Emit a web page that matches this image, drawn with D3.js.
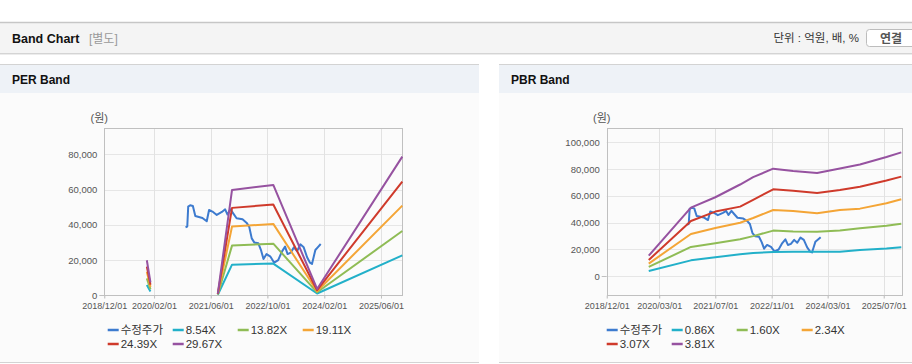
<!DOCTYPE html>
<html>
<head>
<meta charset="utf-8">
<script src="https://cdn.jsdelivr.net/npm/d3@7"></script>
<style>
  body { margin: 0; background: #fff; }
  svg { display: block; font-family: "Liberation Sans", Arial, "Noto Sans CJK KR", sans-serif; }
</style>
</head>
<body>
<script>
// series names / colours
var seriesColors = ["#3d7bcf", "#22b0c9", "#8fbc55", "#f4a536", "#cf3a2b", "#9652a0"];
var perNames = ["수정주가", "8.54X", "13.82X", "19.11X", "24.39X", "29.67X"];
var pbrNames = ["수정주가", "0.86X", "1.60X", "2.34X", "3.07X", "3.81X"];

// adjusted price (shared by both charts)
var priceDates = ["2020-10-28","2020-11-12","2020-11-20","2020-12-07","2020-12-30","2021-01-20","2021-02-12",
  "2021-03-22","2021-04-28","2021-05-18","2021-06-16","2021-07-23","2021-09-05","2021-10-03","2021-10-23",
  "2021-11-18","2021-12-11","2022-01-09","2022-03-01","2022-04-04","2022-04-27","2022-05-19","2022-06-11",
  "2022-07-15","2022-08-08","2022-08-28","2022-09-23","2022-10-27","2022-11-28","2023-01-01","2023-02-02",
  "2023-03-01","2023-03-23","2023-04-18","2023-05-16","2023-06-12","2023-07-10","2023-08-08","2023-09-06",
  "2023-10-01","2023-10-18","2023-11-02","2023-11-16","2023-12-12","2024-01-01"];
var priceValues = [38600, 39000, 50300, 51100, 50700, 45000, 44600,
  43900, 42000, 48400, 47500, 45600, 47300, 48800, 45800,
  48800, 46500, 43700, 43100, 41200, 39000, 32300, 29900,
  29500, 25300, 20600, 23400, 21900, 18500, 20000, 24800,
  27600, 23400, 24200, 27200, 25000, 28900, 27200, 21600,
  18500, 17800, 21900, 25700, 27600, 29100];

// PER bands (null = no data)
var perBandDates = ["2019-12-01","2020-01-01","2020-06-01","2021-08-01","2021-12-01","2022-11-20","2023-12-01","2025-12-01"];
var per854  = [5900, 2100, null, 300, 17400, 18000, 1000, 22700];
var per1382 = [9600, 3400, null, 500, 28200, 29300, 1700, 36500];
var per1911 = [13400, 4700, null, 700, 39000, 40500, 2300, 50900];
var per2439 = [16300, 6000, null, 850, 49600, 51500, 2900, 64500];
var per2967 = [19900, 7300, null, 1000, 59800, 62600, 3600, 78700];

// PBR bands
var pbrBandDates = ["2019-12-01","2020-12-01","2021-07-01","2022-02-01","2022-05-25","2022-11-15","2023-05-07",
  "2023-12-01","2024-06-16","2024-12-07","2025-07-25","2025-12-01"];
var pbr086 = [4000, 11900, 14200, 16400, 17300, 18200, 18300, 18400, 18400, 19700, 20700, 21600];
var pbr160 = [7000, 21900, 24600, 27600, 30000, 34100, 33500, 33300, 34100, 35800, 37800, 39300];
var pbr234 = [9500, 31600, 36100, 40000, 43500, 49500, 48800, 47000, 49500, 50500, 54500, 57500];
var pbr307 = [12200, 41300, 48300, 52000, 57000, 64900, 63900, 62200, 64400, 66900, 71500, 74400];
var pbr381 = [15400, 51200, 59000, 68500, 74000, 80300, 78600, 77100, 80500, 83500, 89000, 92500];

// axis ticks
var perXTicks = ["2018-12-01","2020-02-01","2021-06-01","2022-10-01","2024-02-01","2025-06-01"];
var pbrXTicks = ["2018-12-01","2020-03-01","2021-07-01","2022-11-01","2024-03-01","2025-07-01"];
var perYTicks = [0, 20000, 40000, 60000, 80000];
var pbrYTicks = [0, 20000, 40000, 60000, 80000, 100000];

var parse = d3.timeParse("%Y-%m-%d");
var fmtDate = d3.timeFormat("%Y/%m/%d");

var svg = d3.select("body").append("svg")
  .attr("width", 912)
  .attr("height", 364);

// ---- top header bar
svg.append("rect").attr("x", 0).attr("y", 23).attr("width", 912).attr("height", 30).attr("fill", "#f4f4f4");
svg.append("line").attr("x1", 0).attr("x2", 912).attr("y1", 22.5).attr("y2", 22.5).attr("stroke", "#c6c6c6").attr("stroke-width", 1.5);
svg.append("line").attr("x1", 0).attr("x2", 912).attr("y1", 53.5).attr("y2", 53.5).attr("stroke", "#d4d4d4");
svg.append("line").attr("x1", 0).attr("x2", 912).attr("y1", 54.5).attr("y2", 54.5).attr("stroke", "#ececec");

svg.append("text").attr("x", 12).attr("y", 43)
  .attr("font-size", 12.5).attr("font-weight", "bold").attr("fill", "#111")
  .text("Band Chart");
svg.append("text").attr("x", 89).attr("y", 43)
  .attr("font-size", 12).attr("fill", "#999")
  .text("[별도]");
svg.append("text").attr("x", 859).attr("y", 42).attr("text-anchor", "end")
  .attr("font-size", 11.5).attr("fill", "#333")
  .text("단위 : 억원, 배, %");
svg.append("rect").attr("x", 866.5).attr("y", 29.5).attr("width", 52).attr("height", 17).attr("rx", 3)
  .attr("fill", "#fff").attr("stroke", "#bdbdbd");
svg.append("text").attr("x", 891).attr("y", 42.5).attr("text-anchor", "middle")
  .attr("font-size", 12).attr("font-weight", "bold").attr("fill", "#555")
  .text("연결");

// ---- panels
function panel(x0, w, title) {
  svg.append("rect").attr("x", x0).attr("y", 65).attr("width", w).attr("height", 28).attr("fill", "#eef2f7");
  svg.append("rect").attr("x", x0).attr("y", 93).attr("width", w).attr("height", 269).attr("fill", "#fbfbfb");
  svg.append("line").attr("x1", x0).attr("x2", x0 + w).attr("y1", 64.5).attr("y2", 64.5).attr("stroke", "#d3d3d3");
  svg.append("line").attr("x1", x0).attr("x2", x0 + w).attr("y1", 362.5).attr("y2", 362.5).attr("stroke", "#d3d3d3");
  svg.append("text").attr("x", x0 + 12).attr("y", 84)
    .attr("font-size", 12).attr("font-weight", "bold").attr("fill", "#111")
    .text(title);
}
panel(0, 479, "PER Band");
panel(499, 413, "PBR Band");

// ---- chart drawing
function drawChart(opt) {
  var x = d3.scaleTime()
    .domain([parse("2018-12-01"), parse("2025-12-01")])
    .range([opt.left, opt.right]);
  var y = d3.scaleLinear()
    .domain(opt.yDomain)
    .range([opt.bottom, opt.top]);

  var g = svg.append("g");

  // grid
  g.append("g").selectAll("line.h")
    .data(opt.yTicks).enter().append("line")
    .attr("x1", opt.left).attr("x2", opt.right)
    .attr("y1", d => Math.round(y(d)) + 0.5).attr("y2", d => Math.round(y(d)) + 0.5)
    .attr("stroke", "#e6e6e6");
  g.append("g").selectAll("line.v")
    .data(opt.xTicks.map(parse)).enter().append("line")
    .attr("x1", d => Math.round(x(d)) + 0.5).attr("x2", d => Math.round(x(d)) + 0.5)
    .attr("y1", opt.top).attr("y2", opt.bottom + 3)
    .attr("stroke", "#e2e2e2");

  // plot frame
  g.append("rect")
    .attr("x", Math.round(opt.left) + 0.5).attr("y", Math.round(opt.top) + 0.5)
    .attr("width", Math.round(opt.right - opt.left)).attr("height", Math.round(opt.bottom - opt.top))
    .attr("fill", "none").attr("stroke", "#c0c0c0");
  g.append("line")
    .attr("x1", opt.left - 5).attr("x2", opt.left)
    .attr("y1", Math.round(y(0)) + 0.5).attr("y2", Math.round(y(0)) + 0.5)
    .attr("stroke", "#c0c0c0");

  // x axis labels
  var xAxis = d3.axisBottom(x)
    .tickValues(opt.xTicks.map(parse))
    .tickFormat(fmtDate)
    .tickSize(3)
    .tickPadding(4);
  var xg = g.append("g")
    .attr("transform", "translate(0," + (Math.round(opt.bottom) + 0.5) + ")")
    .call(xAxis);
  xg.select(".domain").remove();
  xg.selectAll(".tick line").attr("stroke", "#c0c0c0");
  xg.selectAll("text").attr("fill", "#555").attr("font-size", 9)
    .attr("font-family", "\"Liberation Sans\", Arial, sans-serif");

  // y axis labels
  var yAxis = d3.axisLeft(y)
    .tickValues(opt.yTicks)
    .tickFormat(d3.format(","))
    .tickSize(0)
    .tickPadding(7);
  var yg = g.append("g")
    .attr("transform", "translate(" + opt.left + ",0)")
    .call(yAxis);
  yg.select(".domain").remove();
  yg.selectAll("text").attr("fill", "#555").attr("font-size", 9.5)
    .attr("font-family", "\"Liberation Sans\", Arial, sans-serif");

  g.append("text")
    .attr("x", opt.left - 5).attr("y", 122)
    .attr("text-anchor", "middle")
    .attr("font-size", 11).attr("fill", "#555")
    .text("(원)");

  var line = d3.line()
    .defined(d => d[1] != null)
    .x(d => x(d[0]))
    .y(d => y(d[1]));

  // price
  var price = priceDates.map((d, i) => [parse(d), priceValues[i]]);
  g.append("path")
    .attr("d", line(price))
    .attr("fill", "none")
    .attr("stroke", seriesColors[0])
    .attr("stroke-width", 2)
    .attr("stroke-linejoin", "round");

  // bands
  opt.bands.forEach(function (vals, k) {
    var pts = opt.bandDates.map((d, i) => [parse(d), vals[i]]);
    g.append("path")
      .attr("d", line(pts))
      .attr("fill", "none")
      .attr("stroke", seriesColors[k + 1])
      .attr("stroke-width", 2)
      .attr("stroke-linejoin", "round");
  });

  // legend
  var items = g.append("g").selectAll("g")
    .data(opt.names).enter().append("g")
    .attr("transform", (d, i) => "translate(" + (opt.legendX + (i % 4) * 65) + "," + (i < 4 ? 330 : 344) + ")");
  items.append("line")
    .attr("x1", 0).attr("x2", 11)
    .attr("stroke", (d, i) => seriesColors[i])
    .attr("stroke-width", 2.5);
  items.append("text")
    .attr("x", 13).attr("y", 4)
    .attr("font-size", 11.5).attr("fill", "#333")
    .text(d => d);
}

drawChart({
  left: 104.3, right: 402.3, top: 128.3, bottom: 295.3,
  yDomain: [0, 94750],
  xTicks: perXTicks, yTicks: perYTicks,
  bandDates: perBandDates,
  bands: [per854, per1382, per1911, per2439, per2967],
  names: perNames,
  legendX: 107.7
});

drawChart({
  left: 606.7, right: 901.3, top: 128.3, bottom: 295.3,
  yDomain: [-14180, 110450],
  xTicks: pbrXTicks, yTicks: pbrYTicks,
  bandDates: pbrBandDates,
  bands: [pbr086, pbr160, pbr234, pbr307, pbr381],
  names: pbrNames,
  legendX: 606.7
});
</script>
</body>
</html>
